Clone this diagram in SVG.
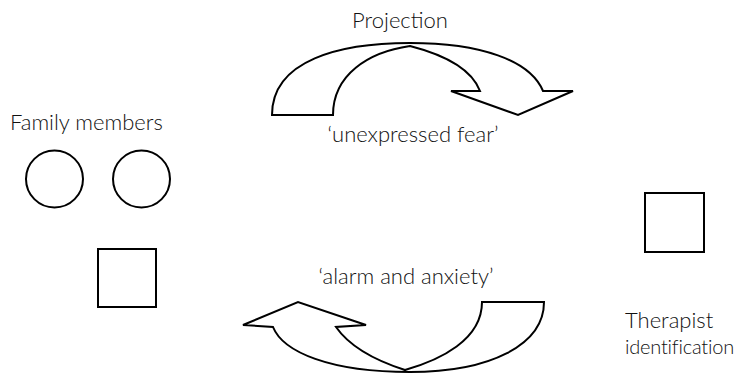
<svg xmlns="http://www.w3.org/2000/svg" width="745" height="373" viewBox="0 0 745 373">
  <style>
    .lbl { font-family: Lato, "Open Sans", "Liberation Sans", sans-serif; font-weight: 300; font-size: 22px; fill: #111111; }
    .narrow { font-size: 20px; letter-spacing: -0.2px; }
    .shape { fill: #ffffff; stroke: #000000; stroke-width: 2; stroke-linejoin: miter; }
  </style>
  <rect width="745" height="373" fill="#ffffff"/>

  <g id="family">
    <text class="lbl" x="10" y="130">Family members</text>
    <circle id="member-1" class="shape" cx="54.5" cy="179" r="28.5"/>
    <circle id="member-2" class="shape" cx="141.5" cy="179" r="28.5"/>
    <rect id="member-3" class="shape" x="98" y="249" width="58" height="58"/>
  </g>

  <g id="therapist">
    <rect class="shape" x="645" y="193" width="59" height="59"/>
    <text class="lbl" x="625" y="328">Therapist</text>
    <text class="lbl narrow" x="625" y="354">identification</text>
  </g>

  <g id="connectors">
    <g id="projection">
      <text class="lbl" x="400" y="28" text-anchor="middle">Projection</text>
      <path class="shape" d="M272,115 L333,115 C333,75 368,52 410,46 C445,55 472,70 480,91 L451,91 L518,115 L573,91 L543,91 C530,60 480,43 410,43 C340,43 272,60 272,115 Z"/>
      <text class="lbl" x="413" y="142" text-anchor="middle">‘unexpressed fear’</text>
    </g>
    <g id="response">
      <text class="lbl" x="406" y="284" text-anchor="middle">‘alarm and anxiety’</text>
      <path class="shape" d="M482,302 L544,302 C544,345 490,372 410,372 C330,372 283,352 273,327 L243,325 L298,302 L366,325 L336,327 C352,350 380,362 405,370 C440,360 482,340 482,302 Z"/>
    </g>
  </g>
</svg>
